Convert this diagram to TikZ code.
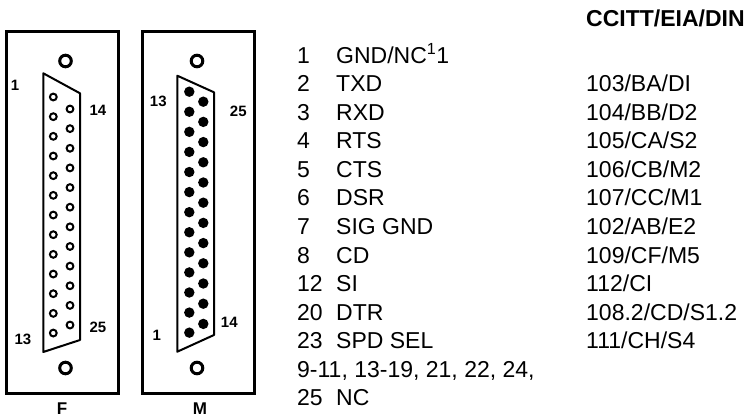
\documentclass[tikz,border=0pt]{standalone}
\usepackage{fontspec}
\setmainfont{Liberation Sans}
\tikzset{
  row/.style={anchor=base west, inner sep=0pt, font=\fontsize{23}{28}\selectfont},
  pinno/.style={inner sep=0pt, font=\bfseries\fontsize{15}{17}\selectfont},
  platename/.style={inner sep=0pt, font=\bfseries\fontsize{17}{20}\selectfont},
  plate/.style={draw, line width=3pt},
  shell/.style={draw, line width=2pt, line join=round},
  hole/.style={draw, line width=3pt},
  femalepin/.style={draw, line width=2pt},
  malepin/.style={fill=black}
}
\begin{document}
\begin{tikzpicture}[x=1pt,y=-1pt]
  \useasboundingbox (0,0) rectangle (749,419);
  % female plug
  \draw[plate] (6,32) rectangle (118,393);
  \draw[hole] (65.5,61) circle (5.8pt);
  \draw[hole] (65.5,368) circle (5.8pt);
  \draw[shell] (43.3,73.3) -- (80,93.3) -- (80,340) -- (43.3,352) -- cycle;
  \foreach \i in {0,...,12} \draw[femalepin] (53.3,97+19.67*\i) circle (3.4pt);
  \foreach \i in {0,...,11} \draw[femalepin] (70,109+19.64*\i) circle (3.4pt);
  \draw
    (15,85) node[pinno] (f1){1}
    (98,110) node[pinno] (f14){14}
    (23,339) node[pinno] (f13){13}
    (98,327) node[pinno] (f25){25}
    (62,409) node[platename] (fname){F};
  % male plug
  \draw[plate] (142,32) rectangle (254,393);
  \draw[hole] (197,61) circle (5.8pt);
  \draw[hole] (197,368) circle (5.8pt);
  \draw[shell] (177.3,75.7) -- (214,92.3) -- (214,335) -- (177.3,351.7) -- cycle;
  \foreach \i in {0,...,12} \fill[malepin] (189.3,91.7+20.08*\i) circle (5.2pt);
  \foreach \i in {0,...,11} \fill[malepin] (203.3,101.7+20.2*\i) circle (5.2pt);
  \draw
    (158.3,101.7) node[pinno] (m13){13}
    (238.3,111.7) node[pinno] (m25){25}
    (156.7,335) node[pinno] (m1){1}
    (229.3,322) node[pinno] (m14){14}
    (200,409) node[platename] (mname){M};
  % pin list
  \draw
    (586,27) node[row, font=\bfseries\fontsize{23}{28}\selectfont] (head){CCITT/EIA/DIN}
    (297,63.3) node[row] (n1){1}
    (336,63.3) node[row] (s1){GND/NC\textsuperscript{1}1}
    (297,91.8) node[row] (n2){2}
    (336,91.8) node[row] (s2){TXD}
    (586,91.8) node[row] (c2){103/BA/DI}
    (297,120.4) node[row] (n3){3}
    (336,120.4) node[row] (s3){RXD}
    (586,120.4) node[row] (c3){104/BB/D2}
    (297,148.9) node[row] (n4){4}
    (336,148.9) node[row] (s4){RTS}
    (586,148.9) node[row] (c4){105/CA/S2}
    (297,177.5) node[row] (n5){5}
    (336,177.5) node[row] (s5){CTS}
    (586,177.5) node[row] (c5){106/CB/M2}
    (297,206.0) node[row] (n6){6}
    (336,206.0) node[row] (s6){DSR}
    (586,206.0) node[row] (c6){107/CC/M1}
    (297,234.5) node[row] (n7){7}
    (336,234.5) node[row] (s7){SIG GND}
    (586,234.5) node[row] (c7){102/AB/E2}
    (297,263.1) node[row] (n8){8}
    (336,263.1) node[row] (s8){CD}
    (586,263.1) node[row] (c8){109/CF/M5}
    (297,291.6) node[row] (n12){12}
    (336,291.6) node[row] (s12){SI}
    (586,291.6) node[row] (c12){112/CI}
    (297,320.2) node[row] (n20){20}
    (336,320.2) node[row] (s20){DTR}
    (586,320.2) node[row] (c20){108.2/CD/S1.2}
    (297,348.7) node[row] (n23){23}
    (336,348.7) node[row] (s23){SPD SEL}
    (586,348.7) node[row] (c23){111/CH/S4}
    (297,377.2) node[row] (nnc){9-11, 13-19, 21, 22, 24,}
    (297,405.8) node[row] (n25){25}
    (336,405.8) node[row] (s25){NC};
\end{tikzpicture}
\end{document}
